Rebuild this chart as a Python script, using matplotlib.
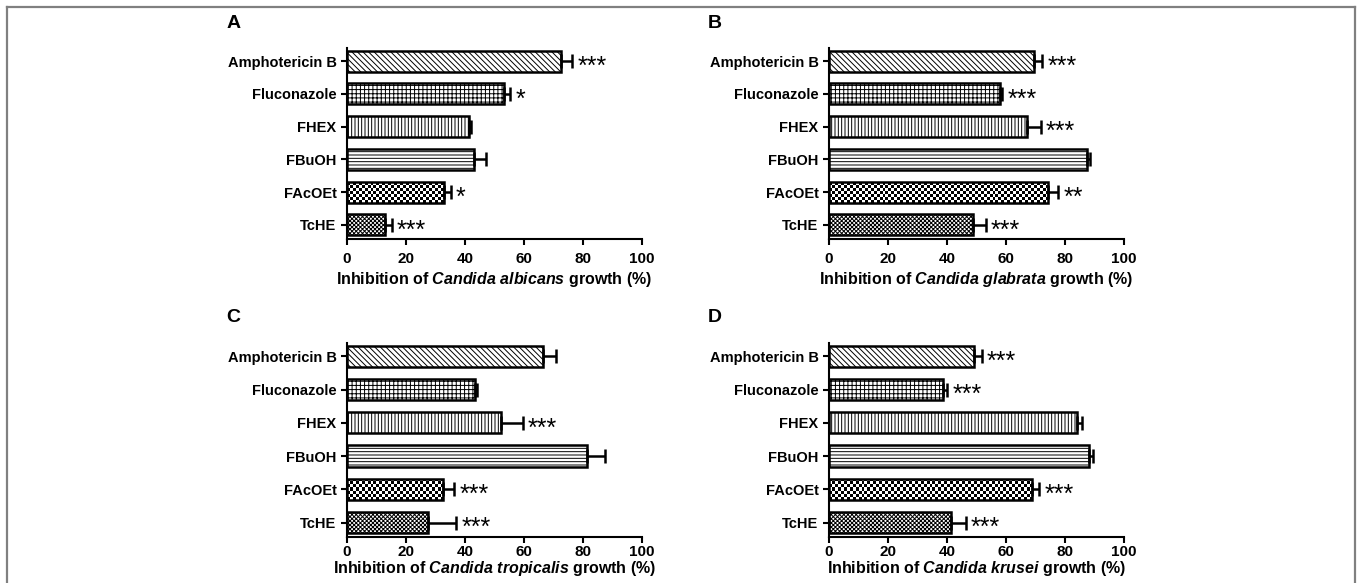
import numpy as np
import matplotlib.pyplot as plt
from matplotlib.lines import Line2D

plt.rcParams['font.family'] = ['Liberation Sans', 'DejaVu Sans']
plt.rcParams['font.weight'] = 'bold'
plt.rcParams['mathtext.fontset'] = 'custom'
plt.rcParams['mathtext.it'] = 'Liberation Sans:italic:bold'
plt.rcParams['mathtext.rm'] = 'Liberation Sans:bold'
plt.rcParams['hatch.linewidth'] = 0.7

# Tratamentos (de cima para baixo)
categories = ['Amphotericin B', 'Fluconazole', 'FHEX', 'FBuOH', 'FAcOEt', 'TcHE']

# Inibição média (%) e erro padrão para cada espécie
albicans_mean = [72.7, 53.2, 41.2, 43.1, 32.8, 12.9]
albicans_err = [3.7, 2.0, 1.0, 4.0, 2.3, 2.2]
albicans_sig = ['***', '*', '', '', '*', '***']

glabrata_mean = [69.6, 57.9, 67.2, 87.3, 74.3, 48.9]
glabrata_err = [2.7, 0.9, 4.5, 1.3, 3.4, 4.2]
glabrata_sig = ['***', '***', '***', '', '**', '***']

tropicalis_mean = [66.5, 43.4, 52.1, 81.2, 32.6, 27.5]
tropicalis_err = [4.5, 0.8, 7.4, 6.2, 3.7, 9.4]
tropicalis_sig = ['', '', '***', '', '***', '***']

krusei_mean = [49.2, 38.6, 84.2, 88.2, 68.9, 41.5]
krusei_err = [2.5, 1.5, 1.4, 1.3, 2.4, 4.8]
krusei_sig = ['***', '***', '', '', '***', '***']

hatches = ['\\\\\\\\\\\\', '++++', '|||||', '-----', None, 'xxxxxxxx']

fig = plt.figure(figsize=(13.57, 5.83), dpi=100)

# Moldura cinza em volta da figura
frame = dict(color='#808080', linewidth=1.6, transform=fig.transFigure)
fig.add_artist(Line2D([7 / 1357, 1355 / 1357], [1 - 7 / 583, 1 - 7 / 583], **frame))
fig.add_artist(Line2D([7 / 1357, 7 / 1357], [0, 1 - 7 / 583], **frame))
fig.add_artist(Line2D([1355 / 1357, 1355 / 1357], [0, 1 - 7 / 583], **frame))

panels = [
    ('A', 'albicans', albicans_mean, albicans_err, albicans_sig, [347 / 1357, 0.590, 295 / 1357, 0.3276], 3),
    ('B', 'glabrata', glabrata_mean, glabrata_err, glabrata_sig, [829 / 1357, 0.590, 295 / 1357, 0.3276], 3),
    ('C', 'tropicalis', tropicalis_mean, tropicalis_err, tropicalis_sig, [347 / 1357, 0.0790, 295 / 1357, 0.3327], 0),
    ('D', 'krusei', krusei_mean, krusei_err, krusei_sig, [829 / 1357, 0.0790, 295 / 1357, 0.3327], 0),
]

y = np.arange(len(categories))[::-1]
h = 0.64

for letter, species, means, errs, sigs, rect, lpad in panels:
    ax = fig.add_axes(rect)
    for yi, m, e, hat in zip(y, means, errs, hatches):
        if hat is None:
            # padrão xadrez desenhado como imagem recortada pela barra
            bar = ax.barh(yi, m, height=h, facecolor='none', edgecolor='black',
                          linewidth=1.8, zorder=2)[0]
            ncols = max(int(round(m / 1.0)), 1)
            board = np.indices((7, ncols)).sum(axis=0) % 2
            im = ax.imshow(board, cmap='gray', extent=(0, m, yi - h / 2, yi + h / 2),
                           aspect='auto', interpolation='nearest', zorder=1)
            im.set_clip_path(bar)
        else:
            ax.barh(yi, m, height=h, facecolor='white', edgecolor='black',
                    linewidth=1.8, hatch=hat, zorder=2)
        ax.errorbar(m, yi, xerr=[[0], [e]], fmt='none', ecolor='black',
                    elinewidth=1.8, capsize=5, capthick=1.8, zorder=3)
    for yi, m, e, s in zip(y, means, errs, sigs):
        if s:
            ax.text(m + e + 1.8, yi - 0.17, s, fontsize=18, fontweight='normal',
                    va='center', ha='left')

    ax.set_xlim(0, 100)
    ax.set_ylim(-0.43, 5.4)
    ax.set_xticks([0, 20, 40, 60, 80, 100])
    ax.set_yticks(y)
    ax.set_yticklabels(categories)
    ax.spines['top'].set_visible(False)
    ax.spines['right'].set_visible(False)
    ax.spines['left'].set_linewidth(1.5)
    ax.spines['bottom'].set_linewidth(1.5)
    ax.tick_params(axis='y', width=1.5, length=4, labelsize=10.5)
    ax.tick_params(axis='x', width=1.5, length=4, labelsize=11, pad=lpad + 2)
    ax.set_xlabel(r'Inhibition of $Candida\ %s$ growth (%%)' % species,
                  fontsize=11.5, fontweight='bold', labelpad=lpad)
    ax.text(-0.41, 1.13, letter, transform=ax.transAxes, fontsize=14, fontweight='bold',
            va='center', ha='left')

fig.savefig('out.png', dpi=100)
